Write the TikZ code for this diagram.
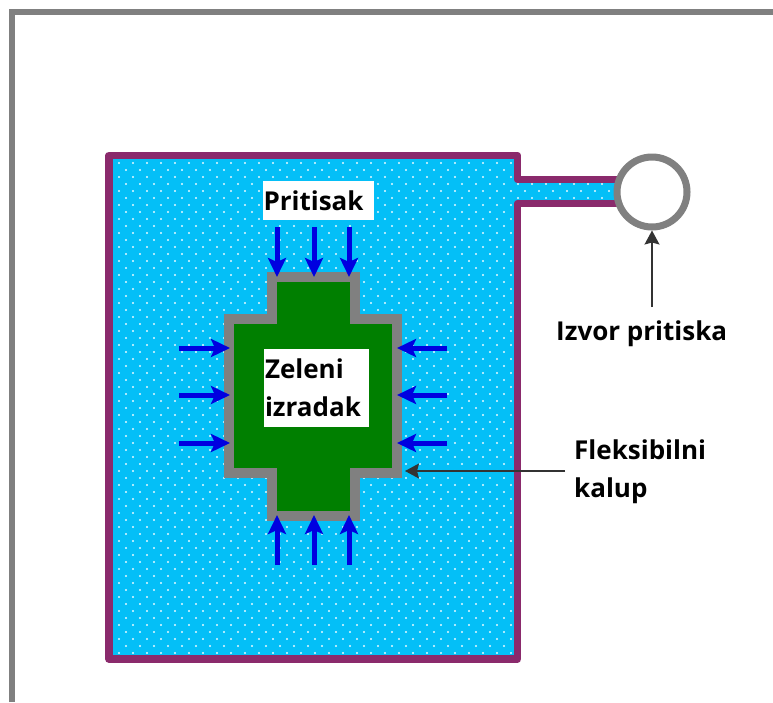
\documentclass[tikz,border=0pt]{standalone}
\usepackage{fontspec}
\setmainfont{Open Sans}
\usetikzlibrary{arrows.meta, patterns.meta, positioning}
\definecolor{mypurple}{HTML}{8A2A6C}
\definecolor{mycyan}{HTML}{04BFF7}
\definecolor{mygreen}{HTML}{007F00}
\definecolor{mygray}{HTML}{808080}
\definecolor{myblue}{HTML}{0000E0}
\tikzset{
	label/.style={font=\fontsize{26}{38}\selectfont\bfseries, inner sep=0pt, align=left},
	whitebox/.style={label, fill=white, text=black},
	press/.style={-{Stealth[length=19pt,width=18pt,inset=4pt]}, line width=5pt, color=myblue},
	pointer/.style={-{Stealth[length=14pt,width=15pt,inset=2pt]}, line width=1.4pt, color=black!80}
}
\begin{document}
\begin{tikzpicture}[x=1pt,y=-1pt]
	\useasboundingbox (0,0) rectangle (773,702);
	\fill[white] (0,0) rectangle (773,702);
	% outer frame
	\draw[line width=6.5pt, color=mygray] (12,702) -- (12,12) -- (773,12);
	% tank with pipe
	\fill[mycyan] (109,155.5) -- (517.5,155.5) -- (517.5,179.5) -- (635,179.5) -- (635,203.5) -- (517.5,203.5) -- (517.5,659) -- (109,659) -- cycle;
	\fill[pattern={Dots[distance=14pt,radius=1.2pt]}, pattern color=white!90!mycyan] (109,155.5) -- (517.5,155.5) -- (517.5,179.5) -- (635,179.5) -- (635,203.5) -- (517.5,203.5) -- (517.5,659) -- (109,659) -- cycle;
	\fill[pattern={Dots[distance=14pt,radius=1.2pt,xshift=7pt,yshift=7pt]}, pattern color=white!90!mycyan] (109,155.5) -- (517.5,155.5) -- (517.5,179.5) -- (635,179.5) -- (635,203.5) -- (517.5,203.5) -- (517.5,659) -- (109,659) -- cycle;
	\draw[line width=7.5pt, color=mypurple, line join=round] (109,155.5) -- (517.5,155.5) -- (517.5,179.5) -- (635,179.5) -- (635,203.5) -- (517.5,203.5) -- (517.5,659) -- (109,659) -- cycle;
	% pressure source
	\node[circle, draw=mygray, fill=white, line width=7pt, minimum size=70pt, inner sep=0pt] (source) at (652,192) {};
	% green part in flexible mould
	\draw[line width=10pt, color=mygray, fill=mygreen, miter limit=10] (271.5,277) -- (354.5,277) -- (354.5,318.5) -- (397,318.5) -- (397,473) -- (354.5,473) -- (354.5,515.5) -- (271.5,515.5) -- (271.5,473) -- (229,473) -- (229,318.5) -- (271.5,318.5) -- cycle;
	% pressure arrows
	\draw[press] (277,227) -- (277,277);
	\draw[press] (314,227) -- (314,277);
	\draw[press] (349,227) -- (349,277);
	\draw[press] (277,565) -- (277,515);
	\draw[press] (314,565) -- (314,515);
	\draw[press] (349,565) -- (349,515);
	\draw[press] (179,348) -- (230,348);
	\draw[press] (179,395) -- (230,395);
	\draw[press] (179,443) -- (230,443);
	\draw[press] (447,348) -- (397,348);
	\draw[press] (447,395) -- (397,395);
	\draw[press] (447,443) -- (397,443);
	% labels
	\node[whitebox, text width=109pt, inner xsep=1pt, minimum height=39pt] (pressure) at (318,200.5) {Pritisak};
	\node[whitebox, text width=103pt, inner xsep=1pt, minimum height=78pt] (part) at (316.5,388) {Zeleni\\izradak};
	\node[label, anchor=west] (sourcelabel) at (556,334) {Izvor pritiska};
	\node[label, anchor=west, text width=140pt] (mouldlabel) at (574,472) {Fleksibilni\\kalup};
	\coordinate (sourcetail) at (652,307);
	\coordinate (mouldtail) at (565,471);
	\coordinate (mouldend) at (405,471);
	\draw[pointer] (sourcetail) -- (source.south);
	\draw[pointer] (mouldtail) -- (mouldend);
\end{tikzpicture}
\end{document}
